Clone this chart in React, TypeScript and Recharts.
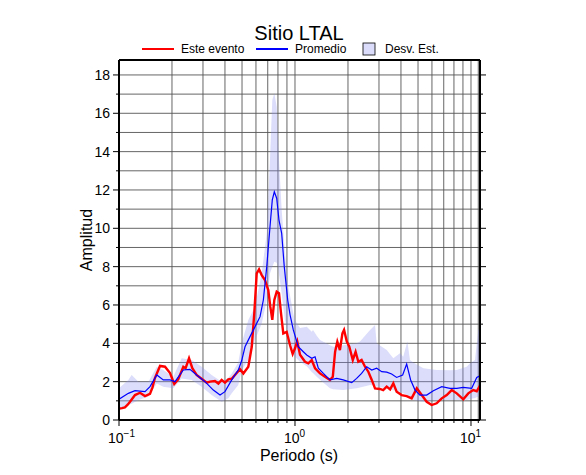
import { ComposedChart, Line, Area, XAxis, YAxis, CartesianGrid } from 'recharts';

// Este evento (red)
const redPeriod = [
  0.1, 0.104, 0.108, 0.112, 0.1155, 0.1233, 0.1316, 0.1405, 0.15, 0.155, 0.16, 0.171, 0.1825, 0.195,
  0.206, 0.217, 0.232, 0.239, 0.25, 0.261, 0.276, 0.301, 0.315, 0.329, 0.351, 0.367, 0.383, 0.4,
  0.418, 0.437, 0.456, 0.487, 0.509, 0.543, 0.568, 0.587, 0.606, 0.625, 0.647, 0.675, 0.705, 0.724,
  0.743, 0.763, 0.787, 0.811, 0.833, 0.858, 0.897, 0.937, 0.97, 1.0, 1.03, 1.068, 1.14, 1.19, 1.245,
  1.3, 1.387, 1.48, 1.58, 1.64, 1.69, 1.74, 1.8, 1.86, 1.9, 1.97, 2.035, 2.13, 2.21, 2.29, 2.39, 2.5,
  2.61, 2.73, 2.85, 3.04, 3.17, 3.32, 3.47, 3.62, 3.78, 4.04, 4.31, 4.6, 4.92, 5.25, 5.6, 5.98, 6.38,
  6.82, 7.28, 7.77, 8.3, 9.04, 9.65, 10.3, 10.78, 11.25,
];
const redAmp = [
  0.6, 0.62, 0.66, 0.8, 0.95, 1.3, 1.42, 1.25, 1.36, 1.7, 2.19, 2.82, 2.78, 2.45,
  1.88, 2.12, 2.78, 2.7, 3.22, 2.7, 2.35, 2.09, 1.95, 2.0, 2.03, 1.9, 2.09, 1.95,
  2.12, 2.15, 2.35, 2.65, 2.43, 2.78, 3.82, 5.56, 7.65, 7.86, 7.56, 7.3, 6.78, 5.91,
  5.22, 6.26, 6.69, 6.61, 5.56, 4.52, 4.6, 3.9, 3.45, 3.74, 4.1, 3.4, 3.04, 2.96, 3.13,
  2.7, 2.43, 2.26, 2.09, 2.26, 3.56, 4.09, 3.65, 4.52, 4.7, 4.09, 3.82, 3.13, 3.56, 3.04, 3.13, 2.78,
  2.52, 2.09, 1.65, 1.62, 1.56, 1.74, 1.6, 1.91, 1.48, 1.3, 1.25, 1.13, 1.65, 1.3, 0.95, 0.78, 0.87,
  1.13, 1.3, 1.56, 1.39, 1.08, 1.39, 1.56, 1.5, 1.8,
];

// Promedio (blue)
const bluePeriod = [
  0.1, 0.113, 0.1233, 0.1405, 0.15, 0.164, 0.1785, 0.195, 0.208, 0.232, 0.253, 0.276, 0.308, 0.3435,
  0.375, 0.4, 0.437, 0.456, 0.476, 0.498, 0.52, 0.555, 0.593, 0.633, 0.661, 0.691, 0.721, 0.743,
  0.763, 0.787, 0.811, 0.84, 0.869, 0.909, 0.937, 0.978, 1.044, 1.115, 1.166, 1.245, 1.3, 1.357,
  1.449, 1.58, 1.726, 1.88, 2.1, 2.24, 2.39, 2.555, 2.73, 2.91, 3.11, 3.32, 3.54, 3.78, 4.09, 4.31,
  4.54, 4.81, 5.13, 5.6, 6.11, 6.82, 7.6, 8.3, 9.04, 10.09, 10.78, 11.25,
];
const blueAmp = [
  1.08, 1.39, 1.53, 1.48, 1.74, 2.35, 2.09, 2.09, 2.0, 2.61, 2.64, 2.35, 2.0, 1.56,
  1.3, 1.48, 2.09, 2.35, 2.6, 3.1, 3.82, 4.35, 4.87, 5.39, 6.26, 8.0, 10.08, 11.48,
  11.9, 11.57, 10.43, 9.74, 8.0, 6.26, 5.5, 4.7, 3.82, 3.56, 3.39, 3.22, 3.3, 2.7,
  2.43, 2.09, 2.17, 2.09, 1.95, 2.17, 2.43, 2.78, 2.61, 2.7, 2.52, 2.5, 2.4, 2.22, 2.35, 2.92,
  2.09, 1.56, 1.3, 1.3, 1.53, 1.74, 1.65, 1.65, 1.7, 1.65, 2.22, 2.3,
];

// Desv. Est. (band)
const bandPeriod = [
  0.1, 0.113, 0.118, 0.129, 0.147, 0.164, 0.1785, 0.2035, 0.227, 0.259, 0.295, 0.336, 0.383, 0.418,
  0.437, 0.476, 0.498, 0.543, 0.593, 0.647, 0.691, 0.721, 0.743, 0.763, 0.787, 0.7975, 0.811, 0.84,
  0.877, 0.916, 0.937, 0.978, 1.0, 1.068, 1.166, 1.245, 1.266, 1.329, 1.387, 1.58, 1.65, 1.88, 2.24,
  2.34, 2.67, 2.85, 2.91, 3.32, 3.62, 3.95, 4.12, 4.35, 4.5, 4.7, 5.36, 6.38, 7.6, 8.3, 9.45, 9.87,
  10.54, 11.0, 11.25,
];
const bandLow = [
  0.5, 0.78, 0.85, 1.04, 1.22, 1.91, 1.74, 1.65, 2.17, 2.09, 1.74, 1.3, 0.95, 1.13,
  1.4, 1.83, 2.61, 3.13, 4.17, 5.04, 6.26, 7.65, 8.0, 8.26, 8.2, 8.09, 7.6, 6.61,
  5.22, 4.5, 4.0, 3.5, 3.3, 3.04, 2.8, 2.5, 2.45, 2.26, 2.1, 1.65, 1.6, 1.56, 1.65,
  1.7, 1.83, 1.8, 1.75, 1.65, 1.55, 1.48, 1.4, 1.3, 1.2, 1.04, 0.95, 1.04, 1.04, 1.04, 1.04, 1.1,
  1.15, 1.22, 1.3,
];
const bandHigh = [
  1.65, 2.09, 2.35, 2.0, 2.0, 2.78, 2.61, 2.26, 3.22, 3.13, 2.78, 2.35, 2.0, 2.2,
  2.43, 3.0, 4.0, 5.22, 5.91, 7.65, 9.74, 13.56, 16.69, 17.04, 16.34, 15.0, 13.56, 10.95,
  8.69, 6.95, 6.5, 5.56, 5.2, 4.8, 4.87, 4.6, 4.7, 4.4, 4.17, 3.9, 3.82, 3.9, 4.0,
  4.09, 4.7, 4.96, 4.0, 3.65, 3.22, 3.48, 3.3, 4.09, 3.13, 3.0, 2.7, 2.61, 2.6, 2.61, 2.78, 2.96,
  3.13, 4.7, 4.87,
];

const xTicks = [0.1, 0.2, 0.3, 0.4, 0.5, 0.6, 0.7, 0.8, 0.9, 1, 2, 3, 4, 5, 6, 7, 8, 9, 10, 11];
const yTicks = [0, 1, 2, 3, 4, 5, 6, 7, 8, 9, 10, 11, 12, 13, 14, 15, 16, 17, 18];
const decadeSup: Record<string, string> = { '0.1': '\u22121', '1': '0', '10': '1' };

const redData = redPeriod.map((p, i) => ({ p, v: redAmp[i] }));
const blueData = bluePeriod.map((p, i) => ({ p, v: blueAmp[i] }));
const bandData = bandPeriod.map((p, i) => ({ p, r: [bandLow[i], bandHigh[i]] }));

const FONT = '"Liberation Sans", Arial, Helvetica, sans-serif';

function BottomTick({ x, y, payload }: any) {
  const sup = decadeSup[String(payload.value)];
  return (
    <g>
      <line x1={x} x2={x} y1={y} y2={y + (sup ? 6 : 3)} stroke="#000" strokeWidth={1} />
      {sup && (
        <text x={x - 11} y={y + 23} fontSize={14} fontFamily={FONT} fill="#000">
          10
          <tspan dy={-6} fontSize={10}>{sup}</tspan>
        </text>
      )}
    </g>
  );
}

function TopTick({ x, y, payload }: any) {
  const sup = decadeSup[String(payload.value)];
  return <line x1={x} x2={x} y1={y} y2={y - (sup ? 6 : 3)} stroke="#000" strokeWidth={1} />;
}

function LeftTick({ x, y, payload }: any) {
  const major = payload.value % 2 === 0;
  return (
    <g>
      <line x1={x - (major ? 6 : 3)} x2={x} y1={y} y2={y} stroke="#000" strokeWidth={1} />
      {major && (
        <text x={x - 9} y={y + 5} textAnchor="end" fontSize={14} fontFamily={FONT} fill="#000">
          {payload.value}
        </text>
      )}
    </g>
  );
}

function RightTick({ x, y, payload }: any) {
  const major = payload.value % 2 === 0;
  return <line x1={x} x2={x + (major ? 6 : 3)} y1={y} y2={y} stroke="#000" strokeWidth={1} />;
}

export default function App() {
  return (
    <div style={{ position: 'absolute', left: 0, top: 0, width: 586, height: 475, background: '#fff' }}>
      <ComposedChart width={586} height={475} margin={{ top: 50, right: 96, bottom: 25, left: 79 }}>
        <CartesianGrid stroke="#555" strokeWidth={0.9} />
        <XAxis
          xAxisId={0}
          dataKey="p"
          type="number"
          scale="log"
          domain={[0.1, 11.25]}
          allowDataOverflow
          ticks={xTicks}
          interval={0}
          height={30}
          tickSize={0}
          tickMargin={0}
          tick={BottomTick}
          axisLine={{ stroke: '#000', strokeWidth: 2 }}
        />
        <XAxis
          xAxisId="top"
          orientation="top"
          type="number"
          scale="log"
          domain={[0.1, 11.25]}
          allowDataOverflow
          ticks={xTicks}
          interval={0}
          height={10}
          tickSize={0}
          tickMargin={0}
          tick={TopTick}
          axisLine={{ stroke: '#000', strokeWidth: 2 }}
        />
        <YAxis
          yAxisId={0}
          type="number"
          domain={[0, 18.78]}
          allowDataOverflow
          ticks={yTicks}
          interval={0}
          width={40}
          tickSize={0}
          tickMargin={0}
          tick={LeftTick}
          axisLine={{ stroke: '#000', strokeWidth: 2 }}
        />
        <YAxis
          yAxisId="right"
          orientation="right"
          type="number"
          domain={[0, 18.78]}
          allowDataOverflow
          ticks={yTicks}
          interval={0}
          width={10}
          tickSize={0}
          tickMargin={0}
          tick={RightTick}
          axisLine={{ stroke: '#000', strokeWidth: 2 }}
        />
        <Area
          data={bandData}
          dataKey="r"
          type="linear"
          stroke="none"
          fill="#8890ee"
          fillOpacity={0.3}
          isAnimationActive={false}
        />
        <Line
          data={redData}
          dataKey="v"
          type="linear"
          stroke="#ff0000"
          strokeWidth={2.4}
          dot={false}
          isAnimationActive={false}
        />
        <Line
          data={blueData}
          dataKey="v"
          type="linear"
          stroke="#0000ff"
          strokeWidth={1.2}
          dot={false}
          isAnimationActive={false}
        />
      </ComposedChart>
      <svg
        width={586}
        height={475}
        style={{ position: 'absolute', left: 0, top: 0, pointerEvents: 'none' }}
        fontFamily={FONT}
      >
        <text x={299} y={39.5} textAnchor="middle" fontSize={20} fill="#000">Sitio LTAL</text>
        <line x1={142} x2={174} y1={49} y2={49} stroke="#ff0000" strokeWidth={2} />
        <text x={181} y={52.5} fontSize={12} fill="#000">Este evento</text>
        <line x1={256} x2={288} y1={49} y2={49} stroke="#0000ff" strokeWidth={2} />
        <text x={295} y={52.5} fontSize={12} fill="#000">Promedio</text>
        <rect x={363} y={43} width={12} height={12} fill="#dadcfa" stroke="#000" strokeWidth={0.8} />
        <text x={385} y={52.5} fontSize={12} fill="#000">Desv. Est.</text>
        <text x={91.5} y={240} transform="rotate(-90 91.5 240)" textAnchor="middle" fontSize={16} fill="#000">
          Amplitud
        </text>
        <text x={299} y={461} textAnchor="middle" fontSize={16} fill="#000">Periodo (s)</text>
      </svg>
    </div>
  );
}
